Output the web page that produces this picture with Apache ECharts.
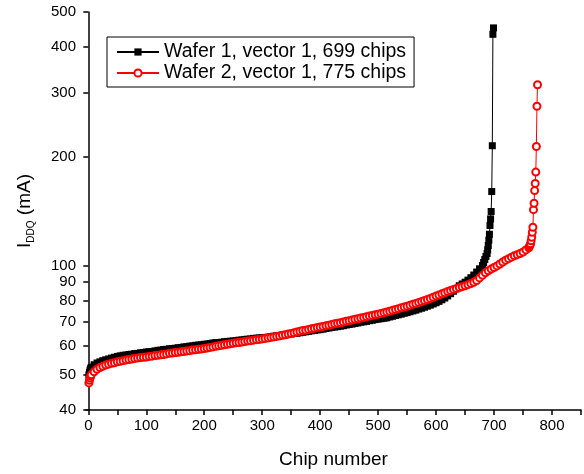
<!DOCTYPE html>
<html>
<head>
<meta charset="utf-8">
<script src="https://cdn.jsdelivr.net/npm/echarts@6/dist/echarts.min.js"></script>
<style>
  html, body { margin: 0; padding: 0; background: #fff; }
  #chart { width: 584px; height: 474px; }
</style>
</head>
<body>
<div id="chart"></div>
<script>
const STEP = 5;

// Wafer 1 (black squares)
const wafer1HeadChips = [1, 2, 3, 4];
const wafer1HeadValues = [50.0, 50.8, 51.5, 52.0];
const wafer1BulkStart = 5;
const wafer1BulkValues = [
  52.5, 53.3, 53.9, 54.3, 54.7, 55.0, 55.3, 55.6, 55.9, 56.2,
  56.4, 56.6, 56.7, 56.9, 57.0, 57.2, 57.3, 57.5, 57.6, 57.8,
  57.9, 58.0, 58.2, 58.4, 58.5, 58.7, 58.8, 59.0, 59.1, 59.2,
  59.4, 59.5, 59.7, 59.8, 60.0, 60.1, 60.3, 60.4, 60.5, 60.7,
  60.8, 61.0, 61.2, 61.3, 61.4, 61.5, 61.7, 61.8, 61.9, 62.0,
  62.1, 62.3, 62.4, 62.6, 62.7, 62.8, 63.0, 63.1, 63.2, 63.3,
  63.4, 63.5, 63.7, 63.9, 64.0, 64.2, 64.3, 64.5, 64.7, 64.8,
  65.0, 65.1, 65.3, 65.5, 65.7, 65.9, 66.1, 66.3, 66.5, 66.6,
  66.8, 67.1, 67.3, 67.5, 67.7, 67.9, 68.1, 68.3, 68.6, 68.8,
  69.0, 69.3, 69.5, 69.8, 70.0, 70.2, 70.5, 70.7, 71.0, 71.2,
  71.4, 71.6, 71.8, 72.2, 72.5, 72.9, 73.2, 73.5, 73.9, 74.2,
  74.6, 75.0, 75.4, 75.9, 76.3, 76.8, 77.3, 77.8, 78.4, 79.0,
  79.7, 80.5, 81.4, 82.5, 83.7, 85.0, 86.3, 88.0, 89.0, 90.0,
  91.2, 92.6, 94.2, 96.0, 98.0, 100.0
];
const wafer1TailChips = [682, 684, 686, 688, 689, 690, 691, 692, 693, 694, 695, 696, 697, 698, 699];
const wafer1TailValues = [102, 104, 106, 108, 110.5, 113.6, 117.5, 122, 129, 134.5, 141, 160, 214, 434, 452];

// Wafer 2 (red open circles)
const wafer2HeadChips = [1, 2, 3, 4];
const wafer2HeadValues = [47.5, 48.3, 49.0, 49.6];
const wafer2BulkStart = 5;
const wafer2BulkValues = [
  50.0, 51.0, 51.8, 52.4, 52.8, 53.2, 53.5, 53.8, 54.0, 54.3,
  54.5, 54.7, 54.9, 55.1, 55.3, 55.5, 55.6, 55.8, 55.9, 56.0,
  56.2, 56.3, 56.5, 56.6, 56.8, 56.9, 57.1, 57.3, 57.4, 57.6,
  57.7, 57.9, 58.0, 58.2, 58.3, 58.5, 58.6, 58.8, 58.9, 59.1,
  59.3, 59.5, 59.7, 59.9, 60.1, 60.3, 60.5, 60.7, 60.9, 61.1,
  61.3, 61.4, 61.6, 61.8, 62.0, 62.1, 62.3, 62.5, 62.6, 62.8,
  63.0, 63.2, 63.4, 63.6, 63.8, 64.0, 64.3, 64.5, 64.8, 65.0,
  65.3, 65.6, 65.9, 66.2, 66.4, 66.7, 67.0, 67.2, 67.5, 67.7,
  68.0, 68.3, 68.5, 68.8, 69.1, 69.4, 69.6, 69.9, 70.2, 70.5,
  70.8, 71.1, 71.4, 71.7, 72.0, 72.3, 72.6, 72.9, 73.2, 73.5,
  73.8, 74.2, 74.5, 74.9, 75.3, 75.7, 76.1, 76.5, 76.9, 77.3,
  77.7, 78.2, 78.6, 79.1, 79.6, 80.1, 80.6, 81.2, 81.8, 82.4,
  83.0, 83.6, 84.2, 84.8, 85.4, 86.0, 86.5, 87.0, 87.5, 88.0,
  88.6, 89.2, 90.0, 91.0, 92.5, 94.0, 95.5, 96.8, 97.8, 98.8,
  99.8, 101.0, 102.3, 103.5, 104.5, 105.5, 106.4, 107.2, 108.0, 109.0,
  110.5, 112.0
];
const wafer2TailChips = [761, 762, 763, 764, 765, 766, 767, 768, 769, 770, 771, 772, 773, 774, 775];
const wafer2TailValues = [113, 114, 114.8, 117, 119.7, 123.6, 127.6, 142.6, 148.5, 161, 168.5, 181, 213, 275, 315];

// axis ticks
const xLabelValues = [0, 100, 200, 300, 400, 500, 600, 700, 800];
const xTickValues = [0, 50, 100, 150, 200, 250, 300, 350, 400, 450, 500, 550, 600, 650, 700, 750, 800, 850];
const yTickValues = [40, 50, 60, 70, 80, 90, 100, 200, 300, 400, 500];

const seriesNames = ['Wafer 1, vector 1, 699 chips', 'Wafer 2, vector 1, 775 chips'];

function buildPoints(headChips, headValues, bulkStart, bulkValues, tailChips, tailValues) {
  const pts = [];
  headChips.forEach((c, i) => pts.push([c, headValues[i]]));
  bulkValues.forEach((v, i) => pts.push([bulkStart + i * STEP, v]));
  tailChips.forEach((c, i) => pts.push([c, tailValues[i]]));
  return pts;
}

const wafer1 = buildPoints(wafer1HeadChips, wafer1HeadValues, wafer1BulkStart, wafer1BulkValues, wafer1TailChips, wafer1TailValues);
const wafer2 = buildPoints(wafer2HeadChips, wafer2HeadValues, wafer2BulkStart, wafer2BulkValues, wafer2TailChips, wafer2TailValues);

const FONT = '"Liberation Sans", Arial, sans-serif';

const chart = echarts.init(document.getElementById('chart'), null, { renderer: 'canvas' });
chart.setOption({
  animation: false,
  backgroundColor: '#fff',
  grid: { left: 86, right: 3, top: 12, bottom: 62, containLabel: false },
  legend: {
    orient: 'vertical',
    left: 107,
    top: 37,
    padding: [5, 8, 4, 9],
    itemGap: 1,
    itemWidth: 42,
    itemHeight: 9,
    borderColor: '#000',
    borderWidth: 1,
    textStyle: { fontFamily: FONT, fontSize: 19.5, color: '#000' },
    data: seriesNames
  },
  xAxis: {
    type: 'value',
    min: -4,
    max: 850,
    name: 'Chip number',
    nameLocation: 'middle',
    nameGap: 40,
    nameTextStyle: { fontFamily: FONT, fontSize: 19, color: '#000' },
    axisLine: { lineStyle: { color: '#000', width: 1.5 } },
    axisTick: { customValues: xTickValues, length: 5, lineStyle: { color: '#000', width: 1.5 } },
    axisLabel: { customValues: xLabelValues, fontFamily: FONT, fontSize: 15, color: '#000', margin: 8 },
    splitLine: { show: false }
  },
  yAxis: {
    type: 'log',
    logBase: 10,
    min: 40,
    max: 500,
    name: '{a|I}{b|DDQ}{a| (mA)}',
    nameLocation: 'middle',
    nameGap: 50,
    nameTextStyle: {
      fontFamily: FONT,
      color: '#000',
      rich: {
        a: { fontFamily: FONT, fontSize: 19, color: '#000' },
        b: { fontFamily: FONT, fontSize: 10, color: '#000', padding: [12, 0, 0, 0] }
      }
    },
    axisLine: { show: true, lineStyle: { color: '#000', width: 1.5 } },
    axisTick: { customValues: yTickValues, length: 5, lineStyle: { color: '#000', width: 1.5 } },
    axisLabel: { customValues: yTickValues, fontFamily: FONT, fontSize: 15, color: '#000', margin: 10 },
    splitLine: { show: false },
    minorTick: { show: false }
  },
  series: [
    {
      name: seriesNames[0],
      type: 'line',
      data: wafer1,
      symbol: 'rect',
      symbolSize: 7,
      showAllSymbol: true,
      itemStyle: { color: '#000' },
      lineStyle: { color: '#000', width: 1 },
      z: 2
    },
    {
      name: seriesNames[1],
      type: 'line',
      data: wafer2,
      symbol: 'emptyCircle',
      symbolSize: 7,
      showAllSymbol: true,
      itemStyle: { color: '#ff0000', borderWidth: 1 },
      lineStyle: { color: '#ff0000', width: 1 },
      z: 3
    }
  ]
});
</script>
</body>
</html>
